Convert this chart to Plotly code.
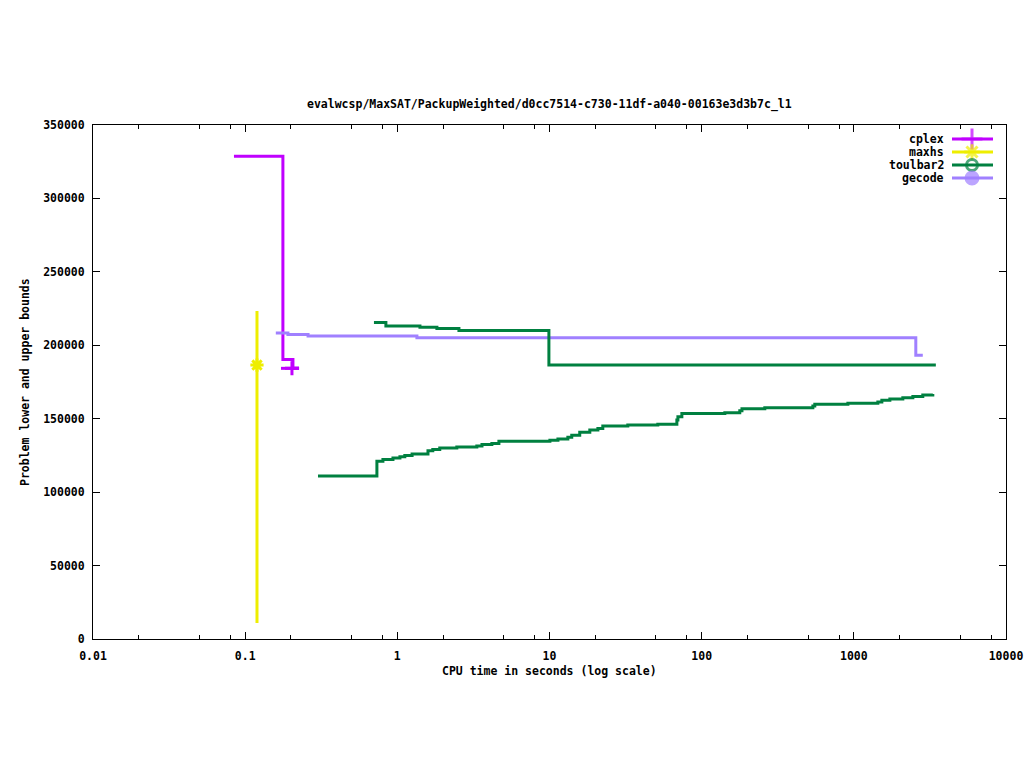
import plotly.graph_objects as go

TITLE = "evalwcsp/MaxSAT/PackupWeighted/d0cc7514-c730-11df-a040-00163e3d3b7c_l1"
X_TITLE = "CPU time in seconds (log scale)"
Y_TITLE = "Problem lower and upper bounds"

x_tickvals = [0.01, 0.1, 1, 10, 100, 1000, 10000]
x_ticktext = ["0.01", "0.1", "1", "10", "100", "1000", "10000"]
x_minor = [m * d for d in [0.01, 0.1, 1, 10, 100, 1000] for m in (2, 5, 8)]

series_names = ["cplex", "maxhs", "toulbar2", "gecode"]
series_colors = ["#c000ff", "#eeee00", "#008040", "#a080ff"]
series_symbols = ["cross-thin-open", "asterisk-open", "circle-open", "circle"]

# cplex
cplex_ub_t = [0.0844, 0.177, 0.206, 0.226]
cplex_ub_v = [328800, 190400, 184300, 184300]
cplex_lb_t = [0.172, 0.226]
cplex_lb_v = [184300, 184300]
cplex_opt_t = [0.203]
cplex_opt_v = [184300]

# maxhs
maxhs_t = [0.1196, 0.1196]
maxhs_v = [10900, 223300]
maxhs_opt_t = [0.1196]
maxhs_opt_v = [186500]

# toulbar2
tb2_ub_t = [0.702, 0.841, 1.408, 1.82, 2.54, 9.91, 3459]
tb2_ub_v = [215600, 213100, 212200, 211500, 210100, 186500, 186500]
tb2_lb_t = [0.301, 0.734, 0.804, 0.936, 1.04, 1.12, 1.25, 1.59, 1.71, 1.90, 2.46,
            3.33, 3.60, 4.18, 4.65, 10.06, 11.36, 13.2, 14.0, 15.8, 18.4, 20.8,
            22.4, 32.7, 51.5, 68.7, 69.8, 74.1, 142, 178, 184, 260, 538, 554,
            914, 1438, 1528, 1725, 2099, 2443, 2839, 3304]
tb2_lb_v = [111000, 121000, 122300, 123200, 124100, 125000, 125900, 128200,
            129100, 130000, 130700, 131400, 132500, 133200, 134700, 135400,
            136200, 137300, 138800, 140700, 142300, 143400, 145000, 145700,
            146300, 149100, 151300, 153600, 154100, 155400, 156800, 157500,
            158600, 159800, 160500, 161300, 162500, 163400, 164300, 165200,
            166100, 166800]

# gecode
gecode_t = [0.159, 0.191, 0.259, 1.345, 2554, 2839]
gecode_v = [208300, 207300, 206300, 205200, 193300, 193300]

FONT = dict(family="DejaVu Sans Mono", size=11.5, color="black", weight="bold")
LW = 3

fig = go.Figure()

def add_line(t, v, color):
    fig.add_trace(go.Scatter(x=t, y=v, mode="lines", line=dict(color=color, width=LW, shape="hv"),
                             showlegend=False, hoverinfo="skip"))

def add_marker(t, v, color, symbol, size=12):
    fig.add_trace(go.Scatter(x=t, y=v, mode="markers",
                             marker=dict(color=color, symbol=symbol, size=size,
                                         line=dict(color=color, width=3)),
                             showlegend=False, hoverinfo="skip"))

add_line(cplex_ub_t, cplex_ub_v, series_colors[0])
add_line(cplex_lb_t, cplex_lb_v, series_colors[0])
add_marker(cplex_opt_t, cplex_opt_v, series_colors[0], series_symbols[0], 10)
add_line(maxhs_t, maxhs_v, series_colors[1])
add_marker(maxhs_opt_t, maxhs_opt_v, series_colors[1], series_symbols[1], 11)
add_line(gecode_t, gecode_v, series_colors[3])
add_line(tb2_ub_t, tb2_ub_v, series_colors[2])
add_line(tb2_lb_t, tb2_lb_v, series_colors[2])

# Gnuplot-style key (text, then line sample with a point), top right inside the plot
L, R, T, B = 93, 1006, 125, 639
W, H = R - L, B - T
def px(x):
    return (x - L) / W
def py(y):
    return (B - y) / H

row_y = [139, 152, 165, 178]
for i, name in enumerate(series_names):
    fig.add_annotation(x=px(946), y=py(row_y[i]), xref="paper", yref="paper", text=name,
                       showarrow=False, xanchor="right", yanchor="middle", font=FONT)
    fig.add_shape(type="line", xref="paper", yref="paper", x0=px(952), x1=px(993),
                  y0=py(row_y[i]), y1=py(row_y[i]), line=dict(color=series_colors[i], width=LW))
fig.add_trace(go.Scatter(x=[px(972)] * 4, y=[py(r) for r in row_y], mode="markers",
                         xaxis="x2", yaxis="y2",
                         marker=dict(color=series_colors, symbol=series_symbols, size=[15, 13, 11, 12],
                                     line=dict(color=series_colors, width=3)),
                         showlegend=False, hoverinfo="skip"))

fig.add_annotation(x=0.5, y=py(105), xref="paper", yref="paper", text=TITLE, showarrow=False,
                   xanchor="center", yanchor="middle", font=FONT)
fig.add_annotation(x=0.5, y=py(671), xref="paper", yref="paper", text=X_TITLE, showarrow=False,
                   xanchor="center", yanchor="middle", font=FONT)
fig.add_annotation(x=px(25), y=0.5, xref="paper", yref="paper", text=Y_TITLE, showarrow=False,
                   xanchor="center", yanchor="middle", textangle=-90, font=FONT)

fig.update_layout(
    template="none",
    width=1024, height=768,
    margin=dict(l=L, r=1024 - R, t=T, b=768 - B, pad=0, autoexpand=False),
    paper_bgcolor="white", plot_bgcolor="white",
    font=FONT,
    showlegend=False,
    xaxis=dict(type="log", range=[-2, 4], tickvals=x_tickvals, ticktext=x_ticktext,
               ticks="inside", ticklen=7, tickwidth=1, tickcolor="black",
               showline=True, linecolor="black", linewidth=1, mirror="allticks",
               showgrid=False, zeroline=False, ticklabelstandoff=6, automargin=False,
               minor=dict(tickvals=x_minor, ticks="inside", ticklen=4, tickcolor="black",
                          showgrid=False)),
    yaxis=dict(range=[0, 350000], dtick=50000, tick0=0, tickformat="d",
               ticks="inside", ticklen=7, tickwidth=1, tickcolor="black",
               showline=True, linecolor="black", linewidth=1, mirror="allticks",
               showgrid=False, zeroline=False, ticklabelstandoff=5, automargin=False),
    xaxis2=dict(range=[0, 1], overlaying="x", visible=False, fixedrange=True),
    yaxis2=dict(range=[0, 1], overlaying="y", visible=False, fixedrange=True),
)

fig.write_html("out.html", config={"displayModeBar": False},
               post_script="document.body.style.margin='0px';")
